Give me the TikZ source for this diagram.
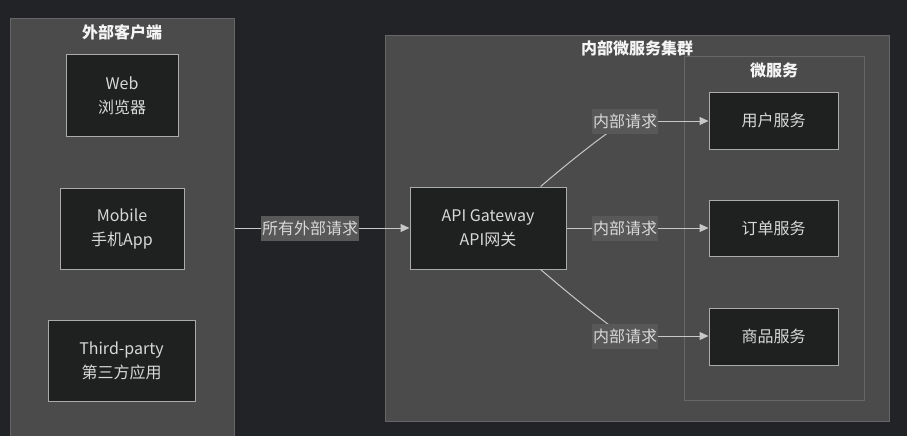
\documentclass[tikz,border=0pt]{standalone}
\usepackage{fontspec}
\setmainfont{Noto Sans CJK SC}
\usetikzlibrary{arrows.meta,calc}
\definecolor{bgc}{HTML}{222327}
\definecolor{clfill}{HTML}{4A4B4A}
\definecolor{clline}{HTML}{666666}
\definecolor{nfill}{HTML}{1F2020}
\definecolor{nline}{HTML}{ABABAB}
\definecolor{txt}{HTML}{D8D8D8}
\definecolor{ttl}{HTML}{F4F4F4}
\definecolor{lfill}{HTML}{585858}
\definecolor{ecol}{HTML}{C8C8C8}
\tikzset{
  cluster/.style={draw=clline,fill=clfill,line width=1pt,inner sep=0pt},
  svc/.style={draw=nline,fill=nfill,line width=1pt,inner sep=0pt,text=txt,
    font=\fontsize{16}{24}\selectfont,align=center},
  ttlnode/.style={text=ttl,font=\fontsize{16}{19}\selectfont\bfseries,inner sep=0pt},
  lab/.style={fill=lfill,text=txt,font=\fontsize{16}{19}\selectfont,inner sep=1pt,
    minimum height=25pt},
  edge/.style={draw=ecol,line width=1pt},
  arr/.style={edge,-{Triangle[length=9pt,width=8pt]}}
}
\begin{document}
\begin{tikzpicture}[x=1pt,y=-1pt]
\useasboundingbox (0,0) rectangle (907,436);
\fill[bgc] (0,0) rectangle (907,436);
% clusters
\node[cluster,minimum width=224pt,minimum height=418pt] (ext) at (122,228) {};
\node[ttlnode] (extt) at (122,32) {外部客户端};
\node[cluster,minimum width=504pt,minimum height=385pt] (int) at (637,228.5) {};
\node[ttlnode] (intt) at (637,48) {内部微服务集群};
\node[cluster,minimum width=180pt,minimum height=343pt] (ms) at (774,228.5) {};
\node[ttlnode] (mst) at (774,70) {微服务};
% client nodes
\node[svc,minimum width=112pt,minimum height=81pt] (web) at (122,95.5) {Web\\浏览器};
\node[svc,minimum width=124pt,minimum height=81pt] (mob) at (122,228.5) {Mobile\\手机App};
\node[svc,minimum width=147pt,minimum height=81pt] (third) at (121.5,360.5) {Third-party\\第三方应用};
% gateway
\node[svc,minimum width=156pt,minimum height=82pt] (gw) at (488,228) {API Gateway\\API网关};
% services
\node[svc,minimum width=129pt,minimum height=57pt] (user) at (773.5,120.5) {用户服务};
\node[svc,minimum width=129pt,minimum height=56pt] (order) at (773.5,228) {订单服务};
\node[svc,minimum width=129pt,minimum height=57pt] (goods) at (773.5,336.5) {商品服务};
% external edge
\draw[arr] (ext.east) -- (gw.west);
\node[lab] (l0) at (310,228.5) {所有外部请求};
% internal edges
\coordinate (gwt) at ($(gw.north)!0.67!(gw.north east)$);
\coordinate (gwb) at ($(gw.south)!0.67!(gw.south east)$);
\coordinate (c1) at (625,121);
\coordinate (c3) at (625,336);
\draw[edge] (gwt) .. controls (575,157) and (605,134) .. (c1);
\draw[edge] (gwb) .. controls (575,299) and (605,323) .. (c3);
\node[lab] (l1) at (c1) {内部请求};
\node[lab] (l2) at (625,228) {内部请求};
\node[lab] (l3) at (c3) {内部请求};
\draw[arr] (l1.east) -- (l1.east -| user.west);
\draw[edge] (gw.east) -- (l2.west);
\draw[arr] (l2.east) -- (order.west);
\draw[arr] (l3.east) -- (l3.east -| goods.west);
\end{tikzpicture}
\end{document}
